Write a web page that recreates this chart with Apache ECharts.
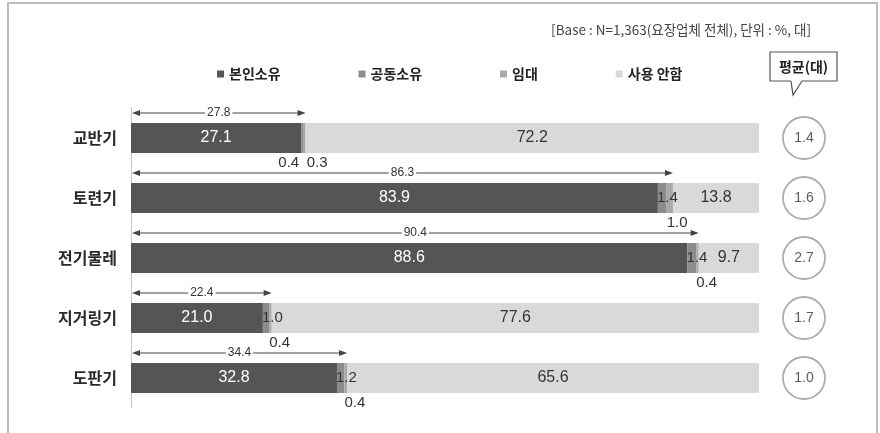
<!DOCTYPE html>
<html>
<head>
<meta charset="utf-8">
<script src="https://cdn.jsdelivr.net/npm/echarts@6/dist/echarts.min.js"></script>
<style>
  html, body { margin: 0; padding: 0; background: #fff; }
  #chart { width: 880px; height: 433px; }
</style>
</head>
<body>
<div id="chart"></div>
<script>
// Equipment ownership by type (%), with owned share and average units
const categories = ['교반기', '토련기', '전기물레', '지거링기', '도판기'];
const ownVals    = [27.1, 83.9, 88.6, 21.0, 32.8];   // 본인소유
const jointVals  = [0.4, 1.4, 1.4, 1.0, 1.2];        // 공동소유
const rentVals   = [0.3, 1.0, 0.4, 0.4, 0.4];        // 임대
const noneVals   = [72.2, 13.8, 9.7, 77.6, 65.6];    // 사용 안함
const ownedTotal = [27.8, 86.3, 90.4, 22.4, 34.4];   // 보유 합계
const avgUnits   = [1.4, 1.6, 2.7, 1.7, 1.0];        // 평균(대)
const seriesNames = ['본인소유', '공동소유', '임대', '사용 안함'];

const NUM_FONT = '"Liberation Sans", Arial, sans-serif';
const KR_FONT = '"Noto Sans CJK KR", "Noto Sans", sans-serif';
const colors = ['#555555', '#8c8c8c', '#a9a9a9', '#d9d9d9'];

const chart = echarts.init(document.getElementById('chart'), null, { renderer: 'canvas' });

const smallLabel = {
  show: true, color: '#333', fontFamily: NUM_FONT, fontSize: 15, lineHeight: 16
};

// thin segment labels: 공동 just right of the segment start, 임대 below the bar
const jointData = jointVals.map((v, i) => i === 0
  ? { value: v, label: { position: [-2, 32], align: 'right', verticalAlign: 'top' } }
  : v);
const rentData = rentVals.map((v, i) => i === 0
  ? { value: v, label: { position: [3, 32], align: 'left', verticalAlign: 'top' } }
  : v);

function arrowItem(params, api) {
  const idx = api.value(1);
  const p0 = api.coord([0, idx]);
  const p1 = api.coord([api.value(0), idx]);
  const y = p0[1] - 25;
  const x0 = p0[0] + 1, x1 = p1[0];
  const ah = 8, aw = 3;
  return {
    type: 'group',
    children: [
      { type: 'line', shape: { x1: x0 + ah - 1, y1: y, x2: x1 - ah + 1, y2: y },
        style: { stroke: '#444', lineWidth: 1 } },
      { type: 'polygon', shape: { points: [[x0, y], [x0 + ah, y - aw], [x0 + ah, y + aw]] },
        style: { fill: '#444' } },
      { type: 'polygon', shape: { points: [[x1, y], [x1 - ah, y - aw], [x1 - ah, y + aw]] },
        style: { fill: '#444' } },
      { type: 'text', x: (x0 + x1) / 2, y: y,
        style: { text: api.value(0).toFixed(1), fill: '#333', font: '12px ' + NUM_FONT,
                 align: 'center', verticalAlign: 'middle',
                 backgroundColor: '#fff', padding: [0, 2] } }
    ]
  };
}

const option = {
  animation: false,
  color: colors,
  legend: {
    left: 212, top: 62,
    itemWidth: 7, itemHeight: 7, itemGap: 78,
    icon: 'rect',
    textStyle: { color: '#222', fontSize: 14, fontWeight: 'bold', fontFamily: KR_FONT },
    data: seriesNames
  },
  grid: [
    { left: 131, right: 121, top: 108, bottom: 25 },
    { left: 784, width: 40, top: 108, bottom: 25 }
  ],
  xAxis: [
    { type: 'value', min: 0, max: 100, show: false, gridIndex: 0 },
    { type: 'category', data: ['평균(대)'], show: false, gridIndex: 1 }
  ],
  yAxis: [
    { type: 'category', data: categories, inverse: true, gridIndex: 0,
      axisLine: { show: true, lineStyle: { color: '#c8c8c8', width: 1 } },
      axisTick: { show: false },
      axisLabel: { margin: 14, color: '#2a2a2a', fontSize: 16, fontWeight: 'bold', fontFamily: KR_FONT } },
    { type: 'category', data: categories, inverse: true, gridIndex: 1, show: false }
  ],
  series: [
    { name: seriesNames[0], type: 'bar', stack: 'own', barWidth: 30, data: ownVals,
      label: { show: true, position: 'inside', color: '#fff', fontFamily: NUM_FONT, fontSize: 16,
               formatter: p => p.value.toFixed(1) } },
    { name: seriesNames[1], type: 'bar', stack: 'own', barWidth: 30, data: jointData,
      label: Object.assign({}, smallLabel, { position: [-1, 15], align: 'left', verticalAlign: 'middle',
               formatter: p => p.value.toFixed(1) }) },
    { name: seriesNames[2], type: 'bar', stack: 'own', barWidth: 30, data: rentData,
      label: Object.assign({}, smallLabel, { position: [0, 32], align: 'left', verticalAlign: 'top',
               formatter: p => p.value.toFixed(1) }) },
    { name: seriesNames[3], type: 'bar', stack: 'own', barWidth: 30, data: noneVals,
      label: { show: true, position: 'inside', color: '#333', fontFamily: NUM_FONT, fontSize: 16,
               formatter: p => p.value.toFixed(1) } },
    { name: 'owned', type: 'custom', renderItem: arrowItem, z: 5,
      data: ownedTotal.map((v, i) => [v, i]), encode: { x: 0, y: 1 } },
    { name: 'avg', type: 'scatter', xAxisIndex: 1, yAxisIndex: 1,
      symbol: 'circle', symbolSize: 42,
      itemStyle: { color: '#fff', borderColor: '#999', borderWidth: 1.8 },
      data: avgUnits.map((v, i) => ['평균(대)', categories[i], v]),
      encode: { x: 0, y: 1 },
      label: { show: true, position: 'inside', color: '#333', fontSize: 14,
               fontFamily: NUM_FONT,
               formatter: p => p.value[2].toFixed(1) } }
  ],
  graphic: [
    { type: 'rect', shape: { x: 8, y: 3, width: 869, height: 445 },
      style: { fill: 'none', stroke: '#bdbdbd', lineWidth: 2 }, silent: true },
    { type: 'text', right: 69, top: 23,
      style: { text: '[Base : N=1,363(요장업체 전체), 단위 : %, 대]', fill: '#444',
               font: '13.5px ' + KR_FONT } },
    { type: 'polyline',
      shape: { points: [[791, 81], [770, 81], [770, 52], [837, 52], [837, 81], [802, 81], [793, 95], [791, 81]] },
      style: { fill: '#fff', stroke: '#555', lineWidth: 1.2 } },
    { type: 'text', x: 803.5, y: 66.5,
      style: { text: '평균(대)', fill: '#222', font: 'bold 14px ' + KR_FONT,
               align: 'center', verticalAlign: 'middle' } }
  ]
};

chart.setOption(option);
</script>
</body>
</html>
